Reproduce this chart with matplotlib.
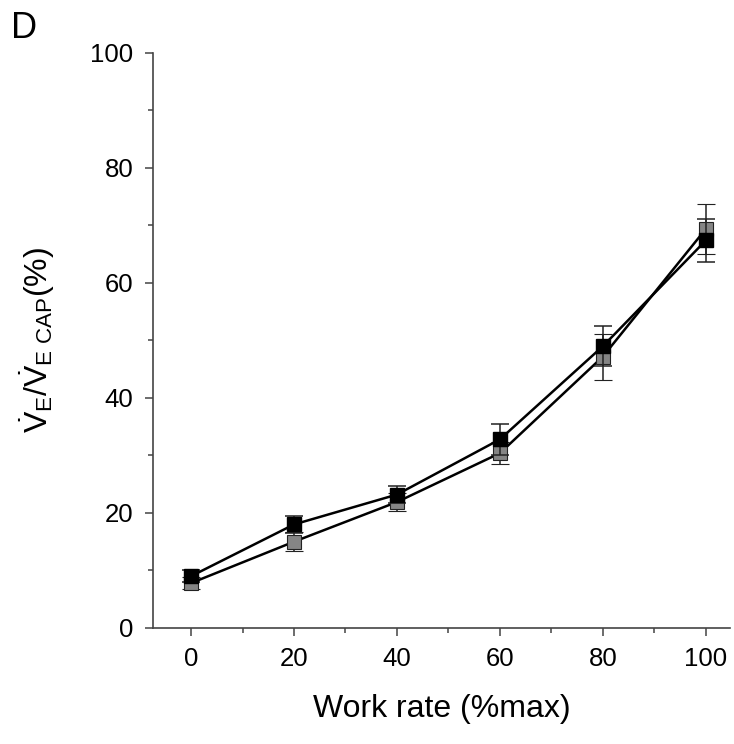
import numpy as np
import matplotlib.pyplot as plt
from matplotlib.ticker import MultipleLocator

plt.rcParams['font.family'] = ['Liberation Sans', 'DejaVu Sans']
plt.rcParams['mathtext.fontset'] = 'custom'
plt.rcParams['mathtext.rm'] = 'Liberation Sans'
plt.rcParams['mathtext.it'] = 'Liberation Sans:italic'

work_rate = [0, 20, 40, 60, 80, 100]

# two groups, mean and SD
black_mean = [9.0, 18.0, 23.2, 32.8, 49.0, 67.4]
black_sd = [1.0, 1.5, 1.5, 2.7, 3.5, 3.8]
gray_mean = [7.8, 15.0, 21.9, 30.4, 47.2, 69.4]
gray_sd = [1.0, 1.6, 1.6, 1.9, 4.0, 4.3]

fig = plt.figure(figsize=(7.34, 7.44), dpi=100)
ax = fig.add_axes([0.2084, 0.156, 0.7862, 0.7728])

ax.errorbar(work_rate, gray_mean, yerr=gray_sd, color='black', lw=1.8,
            marker='s', ms=10.5, mfc='#858585', mec='#222222', mew=0.8,
            ecolor='#222222', elinewidth=1.1, capsize=6.5, capthick=1.1, zorder=2)
ax.errorbar(work_rate, black_mean, yerr=black_sd, color='black', lw=1.8,
            marker='s', ms=10.5, mfc='black', mec='black',
            ecolor='#222222', elinewidth=1.1, capsize=6.5, capthick=1.1, zorder=3)

ax.set_xlim(-7.4, 104.7)
ax.set_ylim(0, 100)
ax.xaxis.set_major_locator(MultipleLocator(20))
ax.xaxis.set_minor_locator(MultipleLocator(10))
ax.yaxis.set_major_locator(MultipleLocator(20))
ax.yaxis.set_minor_locator(MultipleLocator(10))

for side in ['top', 'right']:
    ax.spines[side].set_visible(False)
for side in ['left', 'bottom']:
    ax.spines[side].set_color('#444444')
    ax.spines[side].set_linewidth(1.2)

ax.tick_params(which='major', length=6, width=1.1, color='#444444',
               labelsize=18.5, pad=8)
ax.tick_params(which='minor', length=3.5, width=1.1, color='#444444')

ax.set_xlabel('Work rate (%max)', fontsize=23, labelpad=16)
ax.set_ylabel(r'$\dot{\mathrm{V}}_{\mathrm{E}}/\dot{\mathrm{V}}_{\mathrm{E\ CAP}}$(%)',
              fontsize=23, labelpad=24)

fig.text(0.015, 0.985, 'D', fontsize=26, va='top', ha='left')

fig.savefig('out.png', dpi=100)
